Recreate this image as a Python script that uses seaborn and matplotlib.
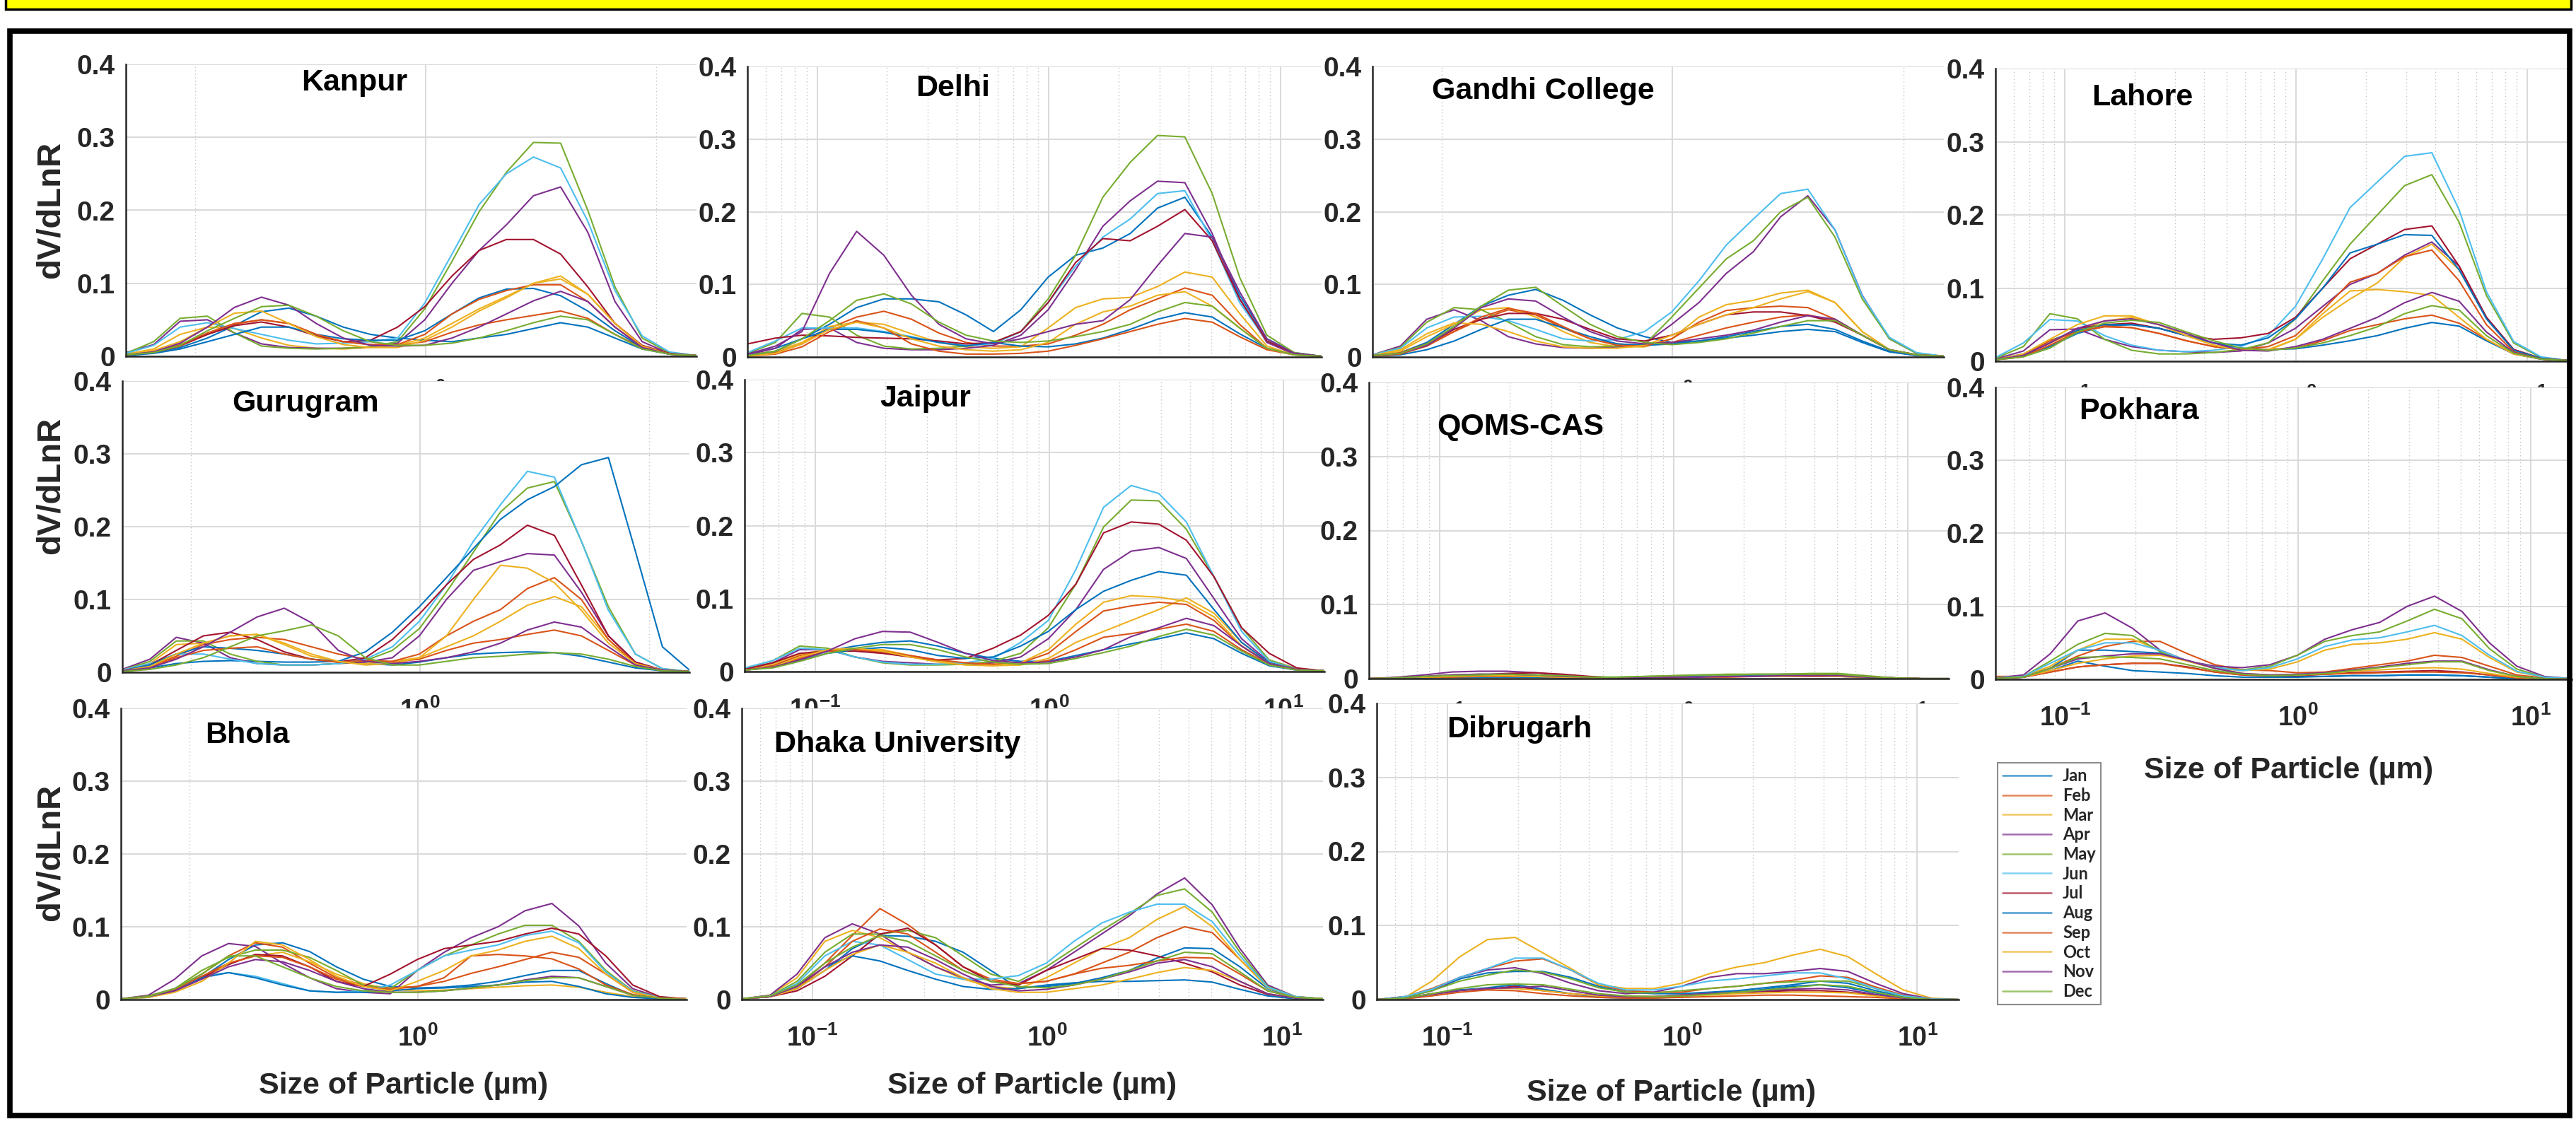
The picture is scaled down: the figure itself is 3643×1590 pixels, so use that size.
import numpy as np
import pandas as pd
import matplotlib
matplotlib.use("Agg")
import matplotlib.pyplot as plt
import seaborn as sns
from matplotlib.patches import Rectangle
from matplotlib.lines import Line2D
from matplotlib.ticker import FixedLocator, FixedFormatter, NullFormatter, LogLocator

# ---------------- data ----------------
RADIUS = [0.050, 0.066, 0.086, 0.113, 0.148, 0.194, 0.255, 0.335, 0.439, 0.576, 0.756,
          0.992, 1.302, 1.708, 2.241, 2.940, 3.857, 5.061, 6.641, 8.713, 11.432, 15.000]
MONTHS = ["Jan", "Feb", "Mar", "Apr", "May", "Jun", "Jul", "Aug", "Sep", "Oct", "Nov", "Dec"]
MONTH_COLORS = ["#0072BD", "#D95319", "#EDB120", "#7E2F8E", "#77AC30", "#4DBEEE",
                "#A2142F", "#0072BD", "#D95319", "#EDB120", "#7E2F8E", "#77AC30"]
YTICKS = [0, 0.1, 0.2, 0.3, 0.4]
YTICK_LABELS = ["0", "0.1", "0.2", "0.3", "0.4"]

KANPUR = [
    [0.002,0.005,0.012,0.025,0.042,0.061,0.066,0.055,0.040,0.030,0.025,0.022,0.020,0.025,0.030,0.038,0.046,0.040,0.025,0.010,0.003,0.001],
    [0.002,0.005,0.014,0.030,0.044,0.050,0.045,0.030,0.020,0.016,0.015,0.020,0.033,0.043,0.050,0.056,0.062,0.052,0.030,0.012,0.003,0.001],
    [0.003,0.010,0.030,0.040,0.038,0.025,0.015,0.011,0.010,0.012,0.015,0.025,0.045,0.065,0.082,0.100,0.110,0.085,0.045,0.014,0.004,0.001],
    [0.005,0.016,0.048,0.050,0.032,0.017,0.012,0.011,0.011,0.013,0.018,0.050,0.100,0.145,0.180,0.220,0.232,0.170,0.075,0.020,0.004,0.001],
    [0.004,0.020,0.052,0.055,0.032,0.014,0.011,0.010,0.011,0.013,0.020,0.065,0.130,0.198,0.252,0.293,0.292,0.200,0.095,0.025,0.005,0.001],
    [0.004,0.015,0.040,0.046,0.038,0.030,0.022,0.017,0.018,0.020,0.025,0.073,0.140,0.208,0.250,0.273,0.258,0.185,0.090,0.028,0.006,0.001],
    [0.002,0.005,0.015,0.030,0.042,0.047,0.040,0.028,0.020,0.022,0.040,0.068,0.110,0.145,0.160,0.160,0.140,0.095,0.045,0.015,0.004,0.001],
    [0.001,0.004,0.010,0.020,0.030,0.040,0.040,0.030,0.024,0.022,0.022,0.035,0.058,0.080,0.092,0.093,0.083,0.062,0.035,0.012,0.003,0.001],
    [0.002,0.006,0.016,0.032,0.045,0.050,0.045,0.030,0.020,0.016,0.016,0.030,0.058,0.078,0.090,0.098,0.098,0.075,0.040,0.013,0.003,0.001],
    [0.002,0.008,0.020,0.040,0.059,0.062,0.045,0.027,0.016,0.012,0.012,0.022,0.040,0.062,0.080,0.100,0.106,0.085,0.045,0.014,0.003,0.001],
    [0.002,0.006,0.018,0.040,0.067,0.081,0.070,0.045,0.025,0.015,0.014,0.015,0.025,0.040,0.058,0.076,0.089,0.075,0.040,0.012,0.003,0.001],
    [0.002,0.005,0.015,0.035,0.052,0.068,0.070,0.055,0.035,0.020,0.015,0.015,0.018,0.025,0.035,0.046,0.055,0.050,0.030,0.010,0.003,0.001],
]

DELHI = [
    [0.005,0.012,0.025,0.045,0.068,0.080,0.080,0.076,0.058,0.035,0.065,0.110,0.140,0.150,0.170,0.205,0.220,0.165,0.085,0.025,0.006,0.001],
    [0.002,0.006,0.018,0.040,0.055,0.063,0.052,0.033,0.020,0.015,0.015,0.018,0.030,0.045,0.065,0.080,0.095,0.085,0.045,0.012,0.003,0.001],
    [0.003,0.008,0.020,0.042,0.048,0.045,0.032,0.020,0.014,0.012,0.014,0.040,0.068,0.080,0.082,0.097,0.117,0.110,0.060,0.015,0.003,0.001],
    [0.003,0.012,0.038,0.040,0.020,0.012,0.010,0.010,0.012,0.016,0.030,0.065,0.120,0.180,0.215,0.242,0.240,0.170,0.080,0.020,0.004,0.001],
    [0.005,0.020,0.060,0.055,0.030,0.015,0.011,0.012,0.015,0.020,0.035,0.080,0.140,0.220,0.268,0.305,0.303,0.225,0.110,0.030,0.006,0.001],
    [0.006,0.022,0.040,0.040,0.040,0.035,0.028,0.020,0.016,0.018,0.035,0.075,0.125,0.165,0.190,0.225,0.229,0.160,0.075,0.022,0.005,0.001],
    [0.018,0.026,0.030,0.029,0.027,0.026,0.025,0.022,0.018,0.020,0.035,0.075,0.130,0.163,0.160,0.180,0.203,0.160,0.080,0.022,0.005,0.001],
    [0.002,0.008,0.025,0.038,0.038,0.034,0.027,0.020,0.015,0.020,0.015,0.014,0.018,0.026,0.038,0.052,0.061,0.055,0.032,0.012,0.003,0.001],
    [0.001,0.004,0.014,0.035,0.050,0.040,0.018,0.008,0.004,0.004,0.005,0.008,0.016,0.025,0.035,0.045,0.053,0.048,0.028,0.010,0.003,0.001],
    [0.001,0.005,0.018,0.038,0.048,0.040,0.025,0.015,0.010,0.008,0.010,0.020,0.045,0.062,0.070,0.085,0.090,0.070,0.040,0.012,0.003,0.001],
    [0.004,0.015,0.035,0.115,0.173,0.140,0.085,0.045,0.025,0.018,0.025,0.035,0.045,0.050,0.079,0.126,0.170,0.165,0.090,0.025,0.005,0.001],
    [0.002,0.008,0.025,0.050,0.078,0.087,0.073,0.048,0.030,0.022,0.020,0.022,0.028,0.035,0.045,0.062,0.075,0.070,0.040,0.012,0.003,0.001],
]

GANDHI_COLLEGE = [
    [0.002,0.006,0.020,0.045,0.070,0.085,0.093,0.078,0.058,0.040,0.028,0.020,0.022,0.028,0.035,0.042,0.045,0.038,0.022,0.008,0.002,0.001],
    [0.002,0.006,0.018,0.035,0.052,0.065,0.058,0.040,0.025,0.018,0.016,0.020,0.030,0.040,0.048,0.055,0.058,0.050,0.030,0.010,0.003,0.001],
    [0.002,0.008,0.028,0.045,0.065,0.068,0.055,0.035,0.020,0.014,0.014,0.025,0.055,0.072,0.078,0.088,0.092,0.075,0.035,0.010,0.003,0.001],
    [0.003,0.015,0.052,0.065,0.050,0.028,0.018,0.013,0.012,0.014,0.018,0.045,0.075,0.115,0.145,0.193,0.222,0.175,0.085,0.025,0.005,0.001],
    [0.003,0.013,0.048,0.068,0.065,0.048,0.028,0.017,0.014,0.015,0.017,0.055,0.095,0.135,0.160,0.200,0.220,0.165,0.080,0.025,0.005,0.001],
    [0.003,0.012,0.040,0.055,0.056,0.050,0.038,0.025,0.022,0.024,0.035,0.062,0.105,0.154,0.190,0.225,0.231,0.175,0.084,0.027,0.006,0.001],
    [0.001,0.005,0.018,0.038,0.052,0.060,0.060,0.052,0.038,0.025,0.022,0.030,0.045,0.058,0.062,0.062,0.057,0.048,0.030,0.010,0.003,0.001],
    [0.001,0.003,0.010,0.022,0.038,0.052,0.052,0.040,0.028,0.018,0.016,0.018,0.022,0.026,0.030,0.035,0.038,0.035,0.020,0.007,0.002,0.001],
    [0.001,0.004,0.015,0.035,0.055,0.067,0.060,0.042,0.025,0.016,0.015,0.025,0.048,0.064,0.068,0.070,0.068,0.052,0.030,0.010,0.003,0.001],
    [0.002,0.010,0.032,0.047,0.045,0.035,0.022,0.014,0.012,0.012,0.016,0.030,0.045,0.058,0.068,0.080,0.090,0.075,0.035,0.010,0.003,0.001],
    [0.002,0.005,0.016,0.040,0.068,0.080,0.077,0.055,0.035,0.022,0.018,0.020,0.025,0.030,0.037,0.048,0.057,0.052,0.030,0.010,0.003,0.001],
    [0.002,0.005,0.018,0.042,0.070,0.092,0.096,0.070,0.045,0.028,0.020,0.017,0.020,0.025,0.033,0.042,0.050,0.050,0.030,0.010,0.003,0.001],
]

LAHORE = [
    [0.002,0.008,0.020,0.038,0.048,0.050,0.045,0.035,0.025,0.018,0.016,0.017,0.022,0.028,0.035,0.045,0.053,0.048,0.028,0.010,0.003,0.001],
    [0.002,0.006,0.022,0.040,0.047,0.046,0.038,0.028,0.020,0.016,0.016,0.018,0.028,0.042,0.050,0.058,0.063,0.052,0.030,0.010,0.003,0.001],
    [0.003,0.008,0.025,0.042,0.055,0.060,0.050,0.035,0.022,0.015,0.015,0.030,0.060,0.085,0.107,0.142,0.160,0.125,0.060,0.015,0.003,0.001],
    [0.003,0.014,0.043,0.044,0.030,0.020,0.015,0.013,0.012,0.014,0.025,0.045,0.075,0.105,0.120,0.145,0.163,0.130,0.060,0.016,0.004,0.001],
    [0.004,0.020,0.065,0.058,0.030,0.015,0.010,0.010,0.012,0.016,0.025,0.058,0.110,0.160,0.200,0.240,0.255,0.190,0.090,0.025,0.005,0.001],
    [0.005,0.025,0.057,0.055,0.035,0.022,0.015,0.013,0.015,0.020,0.035,0.075,0.140,0.210,0.245,0.280,0.285,0.207,0.095,0.027,0.006,0.001],
    [0.002,0.008,0.025,0.045,0.050,0.052,0.045,0.035,0.030,0.032,0.038,0.060,0.100,0.140,0.160,0.180,0.185,0.130,0.060,0.016,0.004,0.001],
    [0.002,0.010,0.028,0.042,0.050,0.050,0.045,0.035,0.025,0.022,0.032,0.058,0.100,0.148,0.160,0.173,0.172,0.125,0.058,0.015,0.004,0.001],
    [0.002,0.008,0.028,0.040,0.048,0.046,0.038,0.028,0.020,0.016,0.020,0.035,0.070,0.108,0.120,0.143,0.152,0.110,0.050,0.013,0.003,0.001],
    [0.002,0.010,0.030,0.050,0.062,0.062,0.050,0.035,0.022,0.015,0.016,0.030,0.065,0.096,0.098,0.095,0.090,0.060,0.030,0.010,0.003,0.001],
    [0.002,0.008,0.025,0.045,0.055,0.058,0.050,0.038,0.025,0.015,0.014,0.020,0.030,0.045,0.060,0.080,0.094,0.082,0.040,0.012,0.003,0.001],
    [0.002,0.006,0.018,0.040,0.052,0.056,0.053,0.040,0.028,0.018,0.015,0.018,0.025,0.035,0.047,0.065,0.076,0.070,0.035,0.011,0.003,0.001],
]

GURUGRAM = [
    [0.002,0.006,0.012,0.015,0.016,0.015,0.014,0.014,0.015,0.012,0.010,0.014,0.020,0.025,0.027,0.028,0.027,0.022,0.014,0.006,0.002,0.001],
    [0.002,0.008,0.022,0.038,0.045,0.048,0.045,0.035,0.025,0.018,0.014,0.018,0.030,0.040,0.045,0.052,0.058,0.050,0.030,0.010,0.003,0.001],
    [0.003,0.012,0.038,0.040,0.050,0.052,0.038,0.022,0.015,0.012,0.015,0.020,0.035,0.050,0.070,0.092,0.104,0.090,0.045,0.012,0.003,0.001],
    [0.004,0.018,0.048,0.040,0.020,0.012,0.010,0.010,0.012,0.014,0.020,0.050,0.100,0.140,0.152,0.163,0.161,0.110,0.050,0.014,0.003,0.001],
    [0.003,0.015,0.043,0.043,0.025,0.015,0.010,0.010,0.012,0.016,0.030,0.060,0.110,0.165,0.220,0.253,0.262,0.180,0.090,0.025,0.005,0.001],
    [0.003,0.012,0.025,0.025,0.018,0.012,0.010,0.010,0.012,0.018,0.035,0.070,0.120,0.180,0.230,0.276,0.268,0.180,0.085,0.025,0.005,0.001],
    [0.002,0.010,0.030,0.050,0.055,0.045,0.028,0.018,0.014,0.020,0.045,0.080,0.120,0.155,0.175,0.202,0.188,0.120,0.050,0.014,0.003,0.001],
    [0.002,0.010,0.025,0.035,0.033,0.030,0.025,0.018,0.015,0.028,0.055,0.090,0.130,0.170,0.210,0.237,0.255,0.285,0.295,0.166,0.035,0.003],
    [0.002,0.006,0.020,0.030,0.033,0.035,0.025,0.018,0.014,0.016,0.015,0.025,0.050,0.070,0.086,0.115,0.130,0.100,0.045,0.012,0.003,0.001],
    [0.002,0.008,0.025,0.040,0.050,0.052,0.040,0.025,0.015,0.010,0.012,0.020,0.050,0.100,0.147,0.143,0.123,0.085,0.040,0.012,0.003,0.001],
    [0.002,0.006,0.018,0.035,0.055,0.076,0.088,0.068,0.030,0.015,0.012,0.015,0.020,0.028,0.040,0.058,0.069,0.062,0.035,0.010,0.003,0.001],
    [0.001,0.004,0.010,0.020,0.035,0.050,0.057,0.065,0.050,0.020,0.010,0.010,0.015,0.020,0.022,0.025,0.027,0.025,0.018,0.008,0.002,0.001],
]

JAIPUR = [
    [0.003,0.008,0.018,0.028,0.035,0.040,0.042,0.035,0.025,0.018,0.014,0.014,0.022,0.030,0.038,0.045,0.053,0.045,0.025,0.008,0.002,0.001],
    [0.003,0.008,0.022,0.030,0.030,0.026,0.020,0.015,0.011,0.010,0.010,0.015,0.030,0.047,0.052,0.058,0.065,0.055,0.030,0.010,0.003,0.001],
    [0.003,0.010,0.024,0.030,0.031,0.030,0.022,0.015,0.010,0.008,0.009,0.018,0.040,0.055,0.070,0.085,0.101,0.080,0.040,0.012,0.003,0.001],
    [0.004,0.012,0.030,0.030,0.020,0.014,0.012,0.010,0.010,0.012,0.020,0.045,0.085,0.140,0.165,0.170,0.155,0.100,0.045,0.013,0.003,0.001],
    [0.004,0.015,0.035,0.032,0.020,0.012,0.009,0.009,0.010,0.014,0.025,0.060,0.120,0.198,0.235,0.234,0.195,0.130,0.060,0.016,0.004,0.001],
    [0.005,0.015,0.032,0.030,0.020,0.013,0.010,0.010,0.012,0.018,0.040,0.070,0.140,0.225,0.255,0.244,0.205,0.130,0.055,0.014,0.003,0.001],
    [0.003,0.012,0.025,0.028,0.028,0.025,0.020,0.016,0.018,0.032,0.050,0.077,0.120,0.190,0.205,0.202,0.180,0.130,0.060,0.025,0.005,0.001],
    [0.002,0.006,0.015,0.025,0.030,0.033,0.030,0.022,0.018,0.020,0.035,0.055,0.085,0.110,0.125,0.137,0.132,0.085,0.040,0.012,0.003,0.001],
    [0.002,0.006,0.018,0.028,0.030,0.028,0.022,0.016,0.012,0.010,0.012,0.025,0.055,0.083,0.090,0.095,0.092,0.070,0.035,0.011,0.003,0.001],
    [0.002,0.006,0.020,0.030,0.032,0.028,0.020,0.013,0.009,0.008,0.012,0.030,0.065,0.095,0.104,0.102,0.096,0.075,0.035,0.011,0.003,0.001],
    [0.002,0.006,0.016,0.028,0.045,0.055,0.054,0.040,0.025,0.015,0.012,0.013,0.020,0.030,0.048,0.060,0.073,0.063,0.035,0.011,0.003,0.001],
    [0.002,0.005,0.014,0.025,0.032,0.037,0.037,0.030,0.020,0.013,0.010,0.011,0.018,0.026,0.035,0.048,0.058,0.050,0.028,0.009,0.002,0.001],
]

QOMS_CAS = [
    [0.000,0.001,0.002,0.003,0.003,0.003,0.002,0.002,0.001,0.001,0.002,0.002,0.003,0.003,0.003,0.004,0.004,0.004,0.002,0.001,0.000,0.000],
    [0.000,0.001,0.002,0.003,0.004,0.005,0.004,0.002,0.001,0.001,0.001,0.002,0.002,0.003,0.003,0.004,0.004,0.004,0.002,0.001,0.000,0.000],
    [0.000,0.001,0.003,0.004,0.005,0.005,0.004,0.003,0.002,0.001,0.002,0.002,0.003,0.004,0.004,0.004,0.005,0.004,0.002,0.001,0.000,0.000],
    [0.000,0.002,0.005,0.009,0.010,0.010,0.008,0.005,0.002,0.001,0.002,0.003,0.004,0.005,0.005,0.006,0.006,0.005,0.003,0.001,0.000,0.000],
    [0.000,0.001,0.003,0.005,0.006,0.006,0.005,0.003,0.002,0.002,0.003,0.004,0.005,0.006,0.006,0.006,0.007,0.007,0.004,0.001,0.000,0.000],
    [0.000,0.001,0.002,0.003,0.004,0.004,0.003,0.002,0.002,0.002,0.002,0.003,0.004,0.004,0.005,0.005,0.005,0.004,0.002,0.001,0.000,0.000],
    [0.000,0.001,0.002,0.003,0.005,0.007,0.008,0.006,0.003,0.001,0.001,0.002,0.002,0.003,0.003,0.004,0.005,0.005,0.003,0.001,0.000,0.000],
    [0.000,0.000,0.001,0.002,0.002,0.002,0.002,0.001,0.001,0.001,0.001,0.002,0.003,0.003,0.004,0.004,0.004,0.003,0.002,0.001,0.000,0.000],
    [0.000,0.001,0.002,0.002,0.003,0.003,0.003,0.002,0.001,0.001,0.001,0.001,0.002,0.002,0.003,0.003,0.003,0.003,0.002,0.001,0.000,0.000],
    [0.000,0.001,0.002,0.003,0.004,0.004,0.003,0.002,0.001,0.001,0.001,0.002,0.002,0.003,0.003,0.003,0.004,0.003,0.002,0.001,0.000,0.000],
    [0.000,0.001,0.003,0.005,0.006,0.006,0.005,0.003,0.002,0.001,0.001,0.002,0.002,0.003,0.003,0.004,0.004,0.004,0.002,0.001,0.000,0.000],
    [0.000,0.001,0.003,0.004,0.005,0.006,0.005,0.004,0.002,0.002,0.003,0.004,0.005,0.005,0.006,0.006,0.006,0.006,0.003,0.001,0.000,0.000],
]

POKHARA = [
    [0.002,0.004,0.015,0.040,0.040,0.038,0.036,0.025,0.015,0.008,0.005,0.004,0.004,0.005,0.005,0.006,0.006,0.005,0.003,0.001,0.000,0.000],
    [0.004,0.004,0.015,0.032,0.045,0.052,0.052,0.035,0.020,0.013,0.012,0.009,0.010,0.015,0.020,0.025,0.033,0.030,0.018,0.006,0.002,0.001],
    [0.002,0.004,0.018,0.040,0.055,0.055,0.040,0.025,0.015,0.012,0.014,0.024,0.040,0.048,0.050,0.055,0.064,0.055,0.030,0.010,0.003,0.001],
    [0.002,0.006,0.035,0.080,0.091,0.070,0.040,0.025,0.018,0.016,0.020,0.033,0.055,0.068,0.078,0.100,0.114,0.093,0.050,0.018,0.004,0.001],
    [0.002,0.004,0.025,0.048,0.063,0.060,0.038,0.025,0.016,0.013,0.018,0.033,0.052,0.060,0.065,0.080,0.096,0.083,0.042,0.014,0.003,0.001],
    [0.002,0.004,0.022,0.040,0.050,0.050,0.040,0.025,0.016,0.012,0.016,0.028,0.045,0.054,0.057,0.065,0.074,0.060,0.033,0.011,0.003,0.001],
    [0.001,0.003,0.010,0.017,0.020,0.022,0.022,0.017,0.010,0.006,0.005,0.005,0.007,0.009,0.010,0.011,0.012,0.010,0.006,0.002,0.001,0.000],
    [0.001,0.003,0.012,0.025,0.018,0.012,0.010,0.008,0.005,0.003,0.003,0.003,0.004,0.005,0.005,0.006,0.006,0.005,0.003,0.001,0.000,0.000],
    [0.001,0.003,0.010,0.017,0.020,0.022,0.022,0.016,0.010,0.006,0.005,0.006,0.007,0.008,0.009,0.010,0.010,0.009,0.006,0.002,0.001,0.000],
    [0.001,0.003,0.012,0.022,0.028,0.032,0.033,0.025,0.015,0.008,0.006,0.006,0.008,0.011,0.013,0.015,0.016,0.014,0.008,0.003,0.001,0.000],
    [0.001,0.003,0.015,0.028,0.032,0.035,0.035,0.026,0.015,0.008,0.006,0.007,0.009,0.013,0.017,0.022,0.025,0.025,0.013,0.004,0.001,0.000],
    [0.001,0.003,0.015,0.030,0.031,0.030,0.028,0.020,0.012,0.007,0.005,0.006,0.008,0.012,0.016,0.020,0.024,0.024,0.012,0.004,0.001,0.000],
]

BHOLA = [
    [0.001,0.004,0.012,0.030,0.055,0.075,0.078,0.066,0.045,0.028,0.018,0.016,0.017,0.020,0.025,0.033,0.040,0.040,0.022,0.006,0.002,0.001],
    [0.001,0.005,0.015,0.035,0.060,0.078,0.072,0.050,0.030,0.020,0.016,0.018,0.030,0.060,0.062,0.060,0.056,0.042,0.020,0.007,0.002,0.001],
    [0.001,0.004,0.012,0.030,0.050,0.060,0.065,0.052,0.035,0.022,0.014,0.012,0.013,0.015,0.017,0.019,0.020,0.017,0.010,0.004,0.001,0.000],
    [0.001,0.006,0.028,0.060,0.077,0.073,0.050,0.030,0.015,0.010,0.008,0.040,0.065,0.085,0.100,0.122,0.132,0.101,0.050,0.015,0.003,0.001],
    [0.001,0.005,0.015,0.040,0.058,0.068,0.068,0.058,0.040,0.020,0.015,0.040,0.060,0.075,0.090,0.102,0.102,0.080,0.040,0.012,0.003,0.001],
    [0.001,0.004,0.015,0.032,0.037,0.032,0.022,0.012,0.010,0.012,0.020,0.040,0.060,0.068,0.075,0.088,0.094,0.078,0.038,0.011,0.003,0.001],
    [0.001,0.004,0.014,0.030,0.048,0.062,0.060,0.045,0.025,0.018,0.035,0.055,0.070,0.075,0.080,0.090,0.098,0.090,0.060,0.020,0.004,0.001],
    [0.001,0.003,0.012,0.030,0.037,0.030,0.020,0.012,0.010,0.010,0.012,0.015,0.016,0.018,0.020,0.024,0.025,0.018,0.008,0.003,0.001,0.000],
    [0.001,0.004,0.014,0.032,0.050,0.060,0.058,0.045,0.028,0.018,0.014,0.018,0.025,0.036,0.045,0.055,0.065,0.058,0.035,0.010,0.002,0.001],
    [0.001,0.003,0.010,0.025,0.050,0.080,0.075,0.055,0.032,0.018,0.012,0.025,0.040,0.060,0.068,0.080,0.087,0.070,0.035,0.010,0.002,0.001],
    [0.001,0.004,0.012,0.028,0.045,0.055,0.052,0.040,0.025,0.015,0.010,0.010,0.012,0.016,0.020,0.027,0.032,0.030,0.018,0.006,0.002,0.000],
    [0.001,0.004,0.015,0.035,0.060,0.060,0.045,0.030,0.018,0.012,0.010,0.010,0.012,0.016,0.020,0.026,0.030,0.030,0.018,0.006,0.002,0.000],
]

DHAKA_UNIVERSITY = [
    [0.001,0.004,0.015,0.040,0.070,0.088,0.087,0.080,0.065,0.040,0.016,0.018,0.022,0.030,0.040,0.057,0.071,0.070,0.045,0.015,0.003,0.001],
    [0.001,0.005,0.018,0.050,0.088,0.125,0.103,0.075,0.045,0.028,0.022,0.025,0.035,0.050,0.065,0.085,0.100,0.092,0.055,0.018,0.004,0.001],
    [0.001,0.006,0.030,0.080,0.095,0.085,0.065,0.045,0.028,0.018,0.015,0.030,0.050,0.070,0.085,0.110,0.128,0.100,0.055,0.016,0.004,0.001],
    [0.001,0.006,0.035,0.085,0.104,0.090,0.065,0.045,0.030,0.020,0.022,0.040,0.065,0.090,0.115,0.145,0.167,0.130,0.070,0.020,0.004,0.001],
    [0.001,0.005,0.025,0.065,0.090,0.090,0.095,0.085,0.060,0.035,0.025,0.045,0.070,0.095,0.118,0.143,0.152,0.120,0.065,0.018,0.004,0.001],
    [0.001,0.005,0.022,0.060,0.080,0.075,0.055,0.035,0.028,0.028,0.033,0.050,0.080,0.105,0.120,0.131,0.131,0.107,0.060,0.017,0.004,0.001],
    [0.001,0.004,0.012,0.032,0.060,0.090,0.098,0.075,0.045,0.025,0.020,0.040,0.055,0.070,0.068,0.060,0.050,0.038,0.020,0.007,0.002,0.000],
    [0.001,0.004,0.018,0.045,0.060,0.053,0.040,0.028,0.018,0.014,0.015,0.020,0.023,0.025,0.025,0.026,0.027,0.024,0.014,0.005,0.001,0.000],
    [0.001,0.004,0.015,0.045,0.080,0.097,0.090,0.065,0.040,0.025,0.022,0.025,0.035,0.043,0.047,0.053,0.058,0.057,0.035,0.012,0.003,0.001],
    [0.001,0.004,0.015,0.040,0.062,0.075,0.065,0.050,0.030,0.015,0.010,0.010,0.015,0.020,0.028,0.037,0.044,0.040,0.025,0.008,0.002,0.000],
    [0.001,0.004,0.018,0.045,0.065,0.075,0.072,0.055,0.035,0.018,0.012,0.014,0.020,0.028,0.038,0.050,0.055,0.045,0.025,0.008,0.002,0.000],
    [0.001,0.005,0.020,0.050,0.072,0.088,0.080,0.060,0.040,0.025,0.018,0.016,0.020,0.028,0.040,0.053,0.065,0.063,0.038,0.012,0.003,0.001],
]

DIBRUGARH = [
    [0.000,0.004,0.012,0.028,0.036,0.038,0.038,0.030,0.018,0.010,0.008,0.008,0.010,0.012,0.016,0.020,0.025,0.022,0.012,0.004,0.001,0.000],
    [0.000,0.004,0.015,0.030,0.042,0.052,0.055,0.040,0.020,0.012,0.010,0.010,0.015,0.018,0.022,0.026,0.032,0.030,0.017,0.006,0.001,0.000],
    [0.000,0.003,0.025,0.058,0.081,0.084,0.063,0.042,0.020,0.015,0.015,0.022,0.035,0.044,0.050,0.060,0.068,0.058,0.035,0.013,0.002,0.000],
    [0.000,0.003,0.012,0.030,0.040,0.043,0.035,0.022,0.012,0.008,0.010,0.018,0.030,0.035,0.035,0.038,0.042,0.038,0.022,0.008,0.001,0.000],
    [0.000,0.003,0.012,0.025,0.033,0.040,0.037,0.028,0.016,0.010,0.009,0.012,0.015,0.018,0.022,0.024,0.025,0.025,0.015,0.005,0.001,0.000],
    [0.000,0.004,0.014,0.030,0.042,0.056,0.056,0.040,0.022,0.013,0.013,0.018,0.025,0.028,0.032,0.036,0.036,0.028,0.015,0.005,0.001,0.000],
    [0.000,0.002,0.008,0.013,0.014,0.018,0.012,0.008,0.005,0.004,0.004,0.006,0.008,0.010,0.011,0.012,0.012,0.010,0.006,0.002,0.000,0.000],
    [0.000,0.002,0.008,0.013,0.016,0.020,0.014,0.008,0.003,0.002,0.002,0.004,0.007,0.010,0.014,0.018,0.020,0.016,0.009,0.003,0.000,0.000],
    [0.000,0.001,0.005,0.010,0.013,0.012,0.008,0.005,0.003,0.002,0.002,0.003,0.004,0.005,0.006,0.006,0.005,0.004,0.003,0.001,0.000,0.000],
    [0.000,0.002,0.007,0.012,0.015,0.015,0.012,0.008,0.005,0.004,0.004,0.005,0.006,0.008,0.009,0.010,0.010,0.009,0.005,0.002,0.000,0.000],
    [0.000,0.002,0.007,0.012,0.015,0.016,0.018,0.012,0.006,0.004,0.004,0.006,0.008,0.010,0.012,0.014,0.015,0.013,0.007,0.002,0.000,0.000],
    [0.000,0.002,0.008,0.015,0.020,0.021,0.020,0.014,0.008,0.005,0.004,0.005,0.007,0.010,0.013,0.016,0.020,0.018,0.010,0.003,0.000,0.000],
]

# ---------------- style ----------------
sns.set_theme(style="white")
plt.rcParams["font.family"] = ["Liberation Sans", "DejaVu Sans"]
plt.rcParams["mathtext.fontset"] = "custom"
plt.rcParams["mathtext.rm"] = "Liberation Sans"
plt.rcParams["mathtext.bf"] = "Liberation Sans:bold"
plt.rcParams["axes.unicode_minus"] = True

W, H, DPI = 3643, 1590, 100
fig = plt.figure(figsize=(W / DPI, H / DPI), dpi=DPI)
fig.patch.set_facecolor("white")

PALETTE = dict(zip(MONTHS, MONTH_COLORS))
INK = "#262626"


def rect(l, r, t, b):
    return [l / W, 1 - b / H, (r - l) / W, (b - t) / H]


# name, data, (left, right, top, bottom), (text x, baseline y), style, ylabel centre, xlabel centre
PANELS = [
    ("Kanpur", KANPUR, (178, 985, 91, 504), (426, 128), "sparse", (72, 297), None),
    ("Delhi", DELHI, (1057, 1869, 94, 505), (1295, 136), "dense", None, None),
    ("Gandhi College", GANDHI_COLLEGE, (1941, 2749, 94, 505), (2025, 140), "sparse", None, None),
    ("Lahore", LAHORE, (2822, 3632, 97, 511), (2958, 149), "dense", None, None),
    ("Gurugram", GURUGRAM, (173, 975, 539, 951), (328, 582), "sparse", (72, 687), None),
    ("Jaipur", JAIPUR, (1053, 1873, 537, 950), (1244, 575), "dense", None, None),
    ("QOMS-CAS", QOMS_CAS, (1936, 2756, 541, 960), (2032, 615), "dense", None, None),
    ("Pokhara", POKHARA, (2822, 3637, 548, 961), (2940, 593), "dense", None, (3237, 1090)),
    ("Bhola", BHOLA, (171, 971, 1002, 1414), (290, 1051), "sparse", (72, 1206), (571, 1536)),
    ("Dhaka University", DHAKA_UNIVERSITY, (1049, 1871, 1002, 1414), (1095, 1064), "dense", None, (1460, 1536)),
    ("Dibrugarh", DIBRUGARH, (1947, 2770, 995, 1414), (2046, 1043), "dense", None, (2364, 1546)),
]

for name, data, (l, r, t, b), (tx, ty), style, ylab, xlab in PANELS:
    ax = fig.add_axes(rect(l, r, t, b))
    ax.set_facecolor("white")
    ax.set_xscale("log")
    df = pd.DataFrame({
        "radius": np.tile(RADIUS, len(MONTHS)),
        "dv": np.concatenate([np.asarray(m, dtype=float) for m in data]),
        "month": np.repeat(MONTHS, len(RADIUS)),
    })
    sns.lineplot(data=df, x="radius", y="dv", hue="month", hue_order=MONTHS,
                 palette=PALETTE, ax=ax, legend=False, linewidth=1.5,
                 estimator=None, sort=False)
    ax.set_xlim(0.05, 15)
    ax.set_ylim(0, 0.4)
    ax.set_yticks(YTICKS)
    ax.set_yticklabels(YTICK_LABELS, fontweight="bold")

    if style == "sparse":
        ax.xaxis.set_major_locator(FixedLocator([1.0]))
        ax.xaxis.set_major_formatter(FixedFormatter([r"$\mathbf{10^{0}}$"]))
        ax.xaxis.set_minor_locator(FixedLocator([0.1, 10.0]))
        ax.xaxis.set_minor_formatter(NullFormatter())
        minor_len = 7
    else:
        ax.xaxis.set_major_locator(FixedLocator([0.1, 1.0, 10.0]))
        ax.xaxis.set_major_formatter(FixedFormatter(
            [r"$\mathbf{10^{-1}}$", r"$\mathbf{10^{0}}$", r"$\mathbf{10^{1}}$"]))
        ax.xaxis.set_minor_locator(LogLocator(base=10, subs=np.arange(2, 10)))
        ax.xaxis.set_minor_formatter(NullFormatter())
        minor_len = 4

    ax.grid(True, which="major", axis="both", color="#d9d9d9", linewidth=1.4, linestyle="-")
    ax.grid(True, which="minor", axis="x", color="#c4c4c4", linewidth=1.0, linestyle=(0, (1, 2.5)))
    ax.set_axisbelow(True)

    for side in ("top", "right"):
        ax.spines[side].set_visible(False)
    for side in ("left", "bottom"):
        ax.spines[side].set_color(INK)
        ax.spines[side].set_linewidth(1.8)

    ax.tick_params(axis="both", which="both", direction="in", color=INK, labelcolor=INK,
                   top=False, right=False)
    ax.tick_params(axis="y", which="major", length=7, width=1.5, pad=11, labelsize=28)
    ax.tick_params(axis="x", which="major", length=7, width=1.5, pad=26, labelsize=27)
    ax.tick_params(axis="x", which="minor", length=minor_len, width=1.2)

    ax.set_xlabel("")
    ax.set_ylabel("")
    if ylab is not None:
        ax.set_ylabel("dV/dLnR", fontsize=34, fontweight="bold", color=INK)
        ax.yaxis.set_label_coords((ylab[0] - l) / (r - l), (b - ylab[1]) / (b - t))
        ax.yaxis.label.set_va("center")
    if xlab is not None:
        ax.set_xlabel("Size of Particle (\u00b5m)", fontsize=31, fontweight="bold", color=INK)
        ax.xaxis.set_label_coords((xlab[0] - l) / (r - l), (b - xlab[1]) / (b - t))
        ax.xaxis.label.set_va("center")

    ax.text((tx - l) / (r - l), (b - ty) / (b - t), name, transform=ax.transAxes,
            fontsize=31, fontweight="bold", color="black", ha="left", va="baseline")

# legend
handles = [Line2D([0], [0], color=c, linewidth=1.8, alpha=0.7) for c in MONTH_COLORS]
leg = fig.legend(handles, MONTHS, loc="upper left",
                 bbox_to_anchor=(2825 / W, 1 - 1079 / H), bbox_transform=fig.transFigure,
                 frameon=True, fancybox=False, framealpha=1, edgecolor="#8c8c8c",
                 prop={"family": ["Lato", "DejaVu Sans"], "weight": "bold", "size": 17},
                 handlelength=2.9, handletextpad=0.7, labelspacing=0.2,
                 borderpad=0.3, borderaxespad=0)
leg.get_frame().set_linewidth(1.5)

# yellow banner and black frame
fig.add_artist(Rectangle((8 / W, 1 - 13 / H), (3636 - 8) / W, 40 / H, transform=fig.transFigure,
                         facecolor="#FFFF00", edgecolor="black", linewidth=2.5, zorder=20))
fig.add_artist(Rectangle((14 / W, 1 - 1578 / H), (3634 - 14) / W, (1578 - 44) / H,
                         transform=fig.transFigure, fill=False, edgecolor="black",
                         linewidth=5.5, zorder=21))

fig.savefig("out.png", dpi=DPI, facecolor="white")
